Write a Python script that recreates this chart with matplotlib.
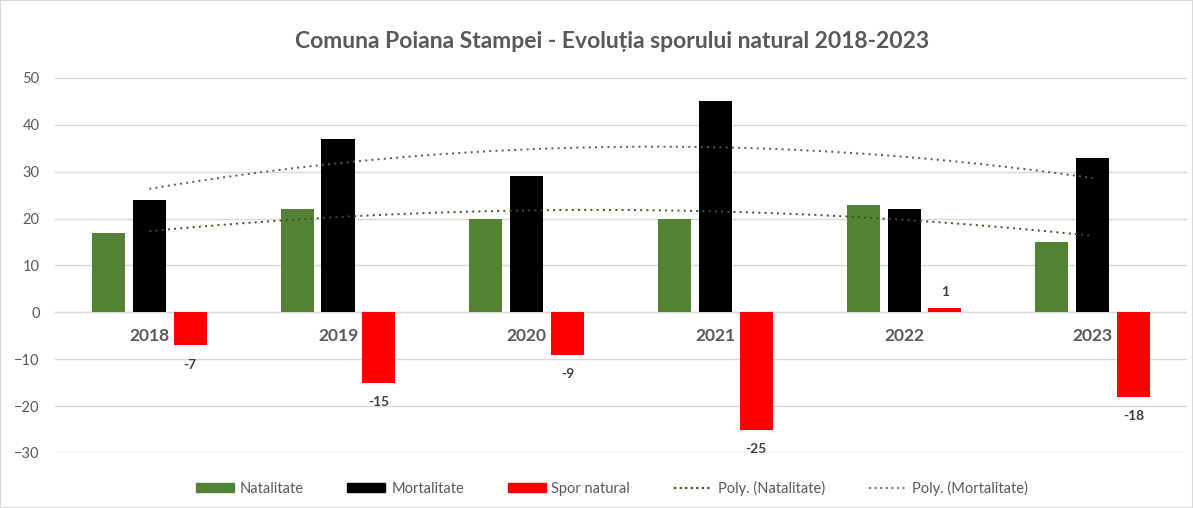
import numpy as np
import matplotlib
matplotlib.use('Agg')
import matplotlib.pyplot as plt
from matplotlib.patches import Rectangle, Patch
from matplotlib.lines import Line2D

plt.rcParams['font.family'] = ['Lato', 'DejaVu Sans']

#===============================================================================
years       = ['2018', '2019', '2020', '2021', '2022', '2023']
natalitate  = [17, 22, 20, 20, 23, 15]
mortalitate = [24, 37, 29, 45, 22, 33]
spor        = [-7, -15, -9, -25, 1, -18]
#===============================================================================

GREEN = '#548235'
RED   = '#ff0000'
GREY  = '#595959'

fig = plt.figure(figsize=(11.93, 5.08), dpi=100)
ax = fig.add_axes([0.0461, 0.1083, 0.9489, 0.7382])

x = np.arange(len(years))
w = 0.175
off = 0.217
ax.bar(x - off, natalitate, w, color=GREEN, zorder=3)
ax.bar(x, mortalitate, w, color='black', zorder=3)
ax.bar(x + off, spor, w, color=RED, zorder=3)

# polynomial trendlines (order 2), as in Excel
xs = np.linspace(0, len(years) - 1, 200)
pn = np.polyfit(x, natalitate, 2)
pm = np.polyfit(x, mortalitate, 2)
ax.plot(xs, np.polyval(pn, xs), color='#375623', lw=1.4, ls=(0, (1, 2.2)), zorder=4)
ax.plot(xs, np.polyval(pm, xs), color='#595959', lw=1.4, ls=(0, (1, 2.2)), zorder=4)

# data labels for spor natural
for xi, v in zip(x, spor):
    dy = -14 if v < 0 else 11
    ax.annotate(str(v), (xi + off, v), xytext=(0, dy), textcoords='offset points',
                ha='center', va='center', fontsize=10, fontweight='bold', color='#404040')

ax.set_xlim(-0.5, len(years) - 0.5)
ax.set_ylim(-30, 50)
ax.set_yticks(range(-30, 51, 10))
ax.yaxis.grid(True, color='#d9d9d9', lw=1, zorder=0)
ax.tick_params(axis='y', length=0, labelsize=10.5, labelcolor=GREY, pad=11)
ax.axhline(0, color='#d9d9d9', lw=1, zorder=1)

ax.spines['bottom'].set_position(('data', 0))
ax.set_xticks(x)
ax.set_xticklabels(years, fontsize=12.5, fontweight='bold', color=GREY)
ax.tick_params(axis='x', length=0, pad=11)
for s in ax.spines.values():
    s.set_visible(False)

fig.text(0.513, 1 - 42 / 508, 'Comuna Poiana Stampei - Evoluția sporului natural 2018-2023',
         ha='center', va='center', fontsize=16.5, fontweight='bold', color=GREY)

handles = [Patch(color=GREEN), Patch(color='black'), Patch(color=RED),
           Line2D([], [], color='#375623', lw=1.6, ls=(0, (1, 1.5))),
           Line2D([], [], color='#808080', lw=1.6, ls=(0, (1, 1.5)))]
labels = ['Natalitate', 'Mortalitate', 'Spor natural', 'Poly. (Natalitate)', 'Poly. (Mortalitate)']
fig.legend(handles, labels, loc='center', bbox_to_anchor=(0.513, 1 - 488 / 508), ncol=5,
           frameon=False, fontsize=10.5, labelcolor=GREY, handlelength=2.6, handleheight=0.6,
           columnspacing=3.0, handletextpad=0.4)

fig.patches.append(Rectangle((0, 0), 1, 1, transform=fig.transFigure, fill=False,
                             edgecolor='#d9d9d9', lw=1.5))

fig.savefig('out.png', dpi=100)
